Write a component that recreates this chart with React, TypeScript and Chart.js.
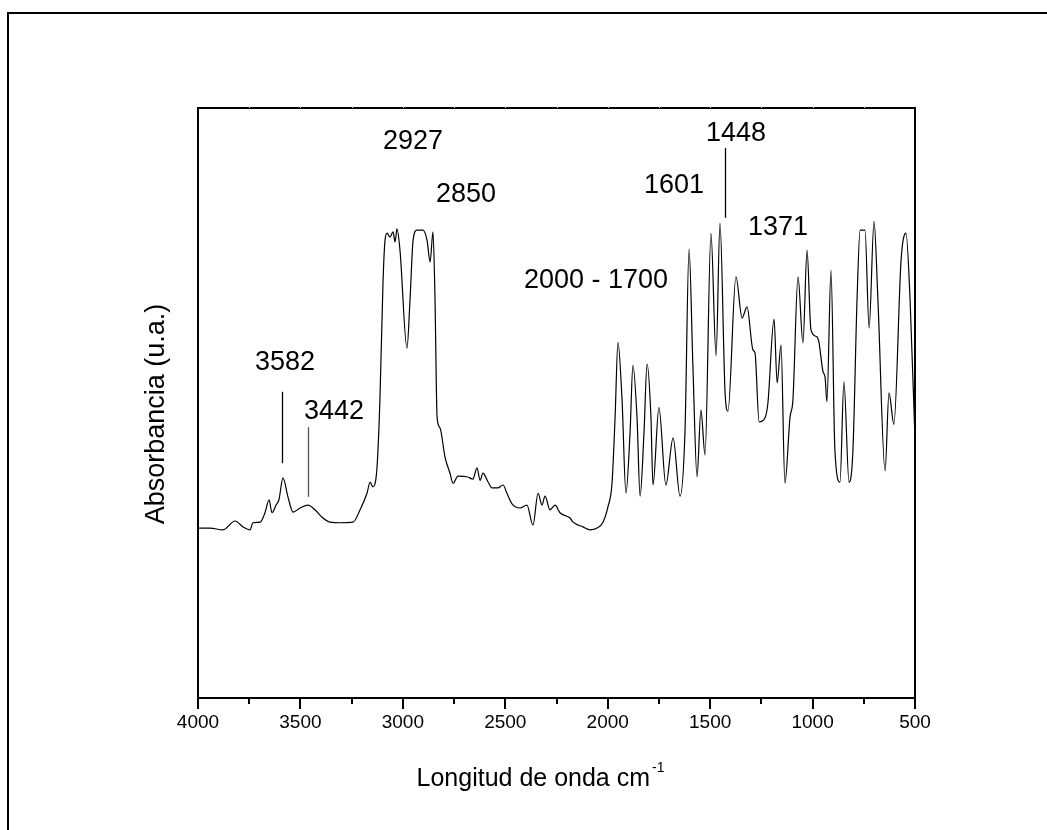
import React, { useEffect, useRef } from "react";
import { Chart, registerables } from "chart.js";

Chart.register(...registerables);

// Spectrum (wavenumber cm-1, absorbance a.u.)
const wavenumbers = [
  4000, 3941, 3878, 3819, 3780, 3746, 3732, 3697, 3673, 3653, 3639, 3619, 3605, 3585, 3561, 3536, 3502, 3463, 3429, 3390,
  3356, 3307, 3243, 3209, 3175, 3160, 3146, 3126, 3112, 3097, 3087, 3077, 3063, 3048, 3038, 3029, 3014, 2980, 2965, 2950,
  2931, 2902, 2882, 2867, 2853, 2843, 2833, 2819, 2794, 2770, 2755, 2731, 2687, 2658, 2638, 2623, 2609, 2584, 2565, 2536,
  2511, 2492, 2467, 2428, 2394, 2365, 2340, 2321, 2306, 2282, 2257, 2233, 2184, 2169, 2121, 2086, 2052, 2023, 1999, 1979,
  1964, 1950, 1930, 1911, 1891, 1877, 1857, 1842, 1823, 1808, 1789, 1779, 1750, 1716, 1681, 1647, 1623, 1603, 1584, 1564,
  1545, 1525, 1496, 1471, 1452, 1427, 1413, 1374, 1344, 1320, 1291, 1281, 1261, 1232, 1218, 1188, 1173, 1154, 1135, 1110,
  1096, 1071, 1047, 1027, 1008, 978, 969, 949, 939, 930, 910, 891, 866, 847, 822, 803, 783, 768, 744, 724,
  700, 681, 646, 627, 603, 568, 544, 524, 500,
];
const absorbance = [
  0.288, 0.288, 0.285, 0.3, 0.29, 0.285, 0.297, 0.298, 0.314, 0.336, 0.314, 0.327, 0.336, 0.373, 0.341, 0.315, 0.322, 0.327, 0.319, 0.305,
  0.298, 0.297, 0.298, 0.319, 0.347, 0.366, 0.358, 0.392, 0.505, 0.703, 0.776, 0.788, 0.781, 0.79, 0.773, 0.795, 0.759, 0.593, 0.675, 0.776,
  0.793, 0.793, 0.776, 0.739, 0.79, 0.675, 0.476, 0.458, 0.408, 0.381, 0.364, 0.376, 0.375, 0.371, 0.39, 0.369, 0.381, 0.366, 0.356, 0.356,
  0.361, 0.347, 0.329, 0.322, 0.327, 0.293, 0.347, 0.327, 0.342, 0.319, 0.327, 0.314, 0.305, 0.298, 0.29, 0.285, 0.288, 0.298, 0.324, 0.364,
  0.476, 0.603, 0.505, 0.347, 0.449, 0.564, 0.476, 0.342, 0.449, 0.566, 0.476, 0.361, 0.492, 0.361, 0.441, 0.342, 0.449, 0.761, 0.561, 0.375,
  0.488, 0.412, 0.788, 0.58, 0.805, 0.517, 0.486, 0.714, 0.644, 0.663, 0.59, 0.585, 0.468, 0.475, 0.5, 0.642, 0.534, 0.598, 0.364, 0.476,
  0.505, 0.714, 0.602, 0.759, 0.624, 0.612, 0.603, 0.553, 0.544, 0.502, 0.725, 0.42, 0.366, 0.536, 0.366, 0.42, 0.675, 0.793, 0.793, 0.627,
  0.808, 0.675, 0.385, 0.517, 0.464, 0.742, 0.788, 0.675, 0.437,
];

const tickValues = [4000, 3500, 3000, 2500, 2000, 1500, 1000, 500];
const tickLabels = ["4000", "3500", "3000", "2500", "2000", "1500", "1000", "500"];

// Peak annotations
const peakLabels = ["2927", "2850", "2000 - 1700", "1601", "1448", "1371", "3582", "3442"];
const peakLabelX = [2950, 2692, 2057, 1676, 1374, 1169, 3575, 3336];
const peakLabelY = [0.943, 0.853, 0.708, 0.868, 0.956, 0.797, 0.569, 0.485];
const markerX = [3591, 3465, 1427];
const markerTop = [0.519, 0.459, 0.932];
const markerBottom = [0.398, 0.341, 0.814];

const xTitle = "Longitud de onda cm";
const xTitleSup = "-1";
const yTitle = "Absorbancia (u.a.)";

const FONT = "'Liberation Sans', Arial, Helvetica, sans-serif";

const framePlugin = {
  id: "frame",
  afterDraw(chart: any) {
    const { ctx, chartArea: a, scales } = chart;
    const xs = scales.x;
    const ys = scales.y;
    ctx.save();
    // outer figure frame
    ctx.strokeStyle = "#000";
    ctx.lineWidth = 2;
    ctx.beginPath();
    ctx.moveTo(8, 830);
    ctx.lineTo(8, 13);
    ctx.lineTo(1047, 13);
    ctx.stroke();

    // plot box
    ctx.lineWidth = 2;
    ctx.strokeRect(a.left, a.top, a.right - a.left, a.bottom - a.top);

    // top faint ticks
    ctx.strokeStyle = "#d4d4d4";
    ctx.lineWidth = 1;
    for (let v = 3750; v > 500; v -= 250) {
      const px = Math.round(xs.getPixelForValue(v)) + 0.5;
      ctx.beginPath();
      ctx.moveTo(px, a.top - 2);
      ctx.lineTo(px, a.top);
      ctx.stroke();
    }

    // bottom ticks
    ctx.strokeStyle = "#000";
    ctx.lineWidth = 2;
    for (let v = 4000; v >= 500; v -= 250) {
      const px = Math.round(xs.getPixelForValue(v));
      const major = v % 500 === 0;
      ctx.beginPath();
      ctx.moveTo(px, a.bottom);
      ctx.lineTo(px, a.bottom + (major ? 11 : 6));
      ctx.stroke();
    }

    // tick labels
    ctx.fillStyle = "#000";
    ctx.font = `19px ${FONT}`;
    ctx.textAlign = "center";
    ctx.textBaseline = "middle";
    tickValues.forEach((v, i) => {
      ctx.fillText(tickLabels[i], xs.getPixelForValue(v), a.bottom + 25);
    });

    // x title with superscript
    ctx.font = `25px ${FONT}`;
    const mainW = ctx.measureText(xTitle).width;
    ctx.font = `14px ${FONT}`;
    const supW = ctx.measureText(xTitleSup).width;
    const total = mainW + 2 + supW;
    const cx = (a.left + a.right) / 2 - 16;
    const startX = cx - total / 2;
    ctx.textAlign = "left";
    ctx.textBaseline = "alphabetic";
    ctx.font = `25px ${FONT}`;
    ctx.fillText(xTitle, startX, a.bottom + 88);
    ctx.font = `14px ${FONT}`;
    ctx.fillText(xTitleSup, startX + mainW + 2, a.bottom + 74);

    // y title
    ctx.save();
    ctx.translate(157, (a.top + a.bottom) / 2 + 11);
    ctx.rotate(-Math.PI / 2);
    ctx.font = `27px ${FONT}`;
    ctx.textAlign = "center";
    ctx.textBaseline = "middle";
    ctx.fillText(yTitle, 0, 0);
    ctx.restore();

    // annotations
    ctx.font = `27px ${FONT}`;
    ctx.textAlign = "center";
    ctx.textBaseline = "middle";
    peakLabels.forEach((t, i) => {
      ctx.fillText(t, xs.getPixelForValue(peakLabelX[i]), ys.getPixelForValue(peakLabelY[i]));
    });
    ctx.lineWidth = 1.3;
    markerX.forEach((v, i) => {
      const px = Math.round(xs.getPixelForValue(v)) + 0.5;
      ctx.strokeStyle = i === 1 ? "#555" : "#000";
      ctx.beginPath();
      ctx.moveTo(px, ys.getPixelForValue(markerTop[i]));
      ctx.lineTo(px, ys.getPixelForValue(markerBottom[i]));
      ctx.stroke();
    });
    ctx.restore();
  },
};

export default function App() {
  const ref = useRef<HTMLCanvasElement | null>(null);
  useEffect(() => {
    if (!ref.current) return;
    const chart = new Chart(ref.current, {
      type: "line",
      data: {
        datasets: [
          {
            data: wavenumbers.map((w, i) => ({ x: w, y: absorbance[i] })),
            borderColor: "#000",
            borderWidth: 1.2,
            pointRadius: 0,
            fill: false,
            cubicInterpolationMode: "monotone",
          },
        ],
      },
      options: {
        responsive: false,
        animation: false,
        devicePixelRatio: 1,
        layout: { padding: { left: 198, top: 108, right: 132, bottom: 132 } },
        plugins: { legend: { display: false }, tooltip: { enabled: false } },
        scales: {
          x: { type: "linear", reverse: true, min: 500, max: 4000, display: false },
          y: { type: "linear", min: 0, max: 1, display: false },
        },
      },
      plugins: [framePlugin],
    });
    return () => chart.destroy();
  }, []);
  return (
    <div style={{ position: "absolute", left: 0, top: 0, width: 1047, height: 830, background: "#fff" }}>
      <canvas ref={ref} width={1047} height={830} />
    </div>
  );
}
